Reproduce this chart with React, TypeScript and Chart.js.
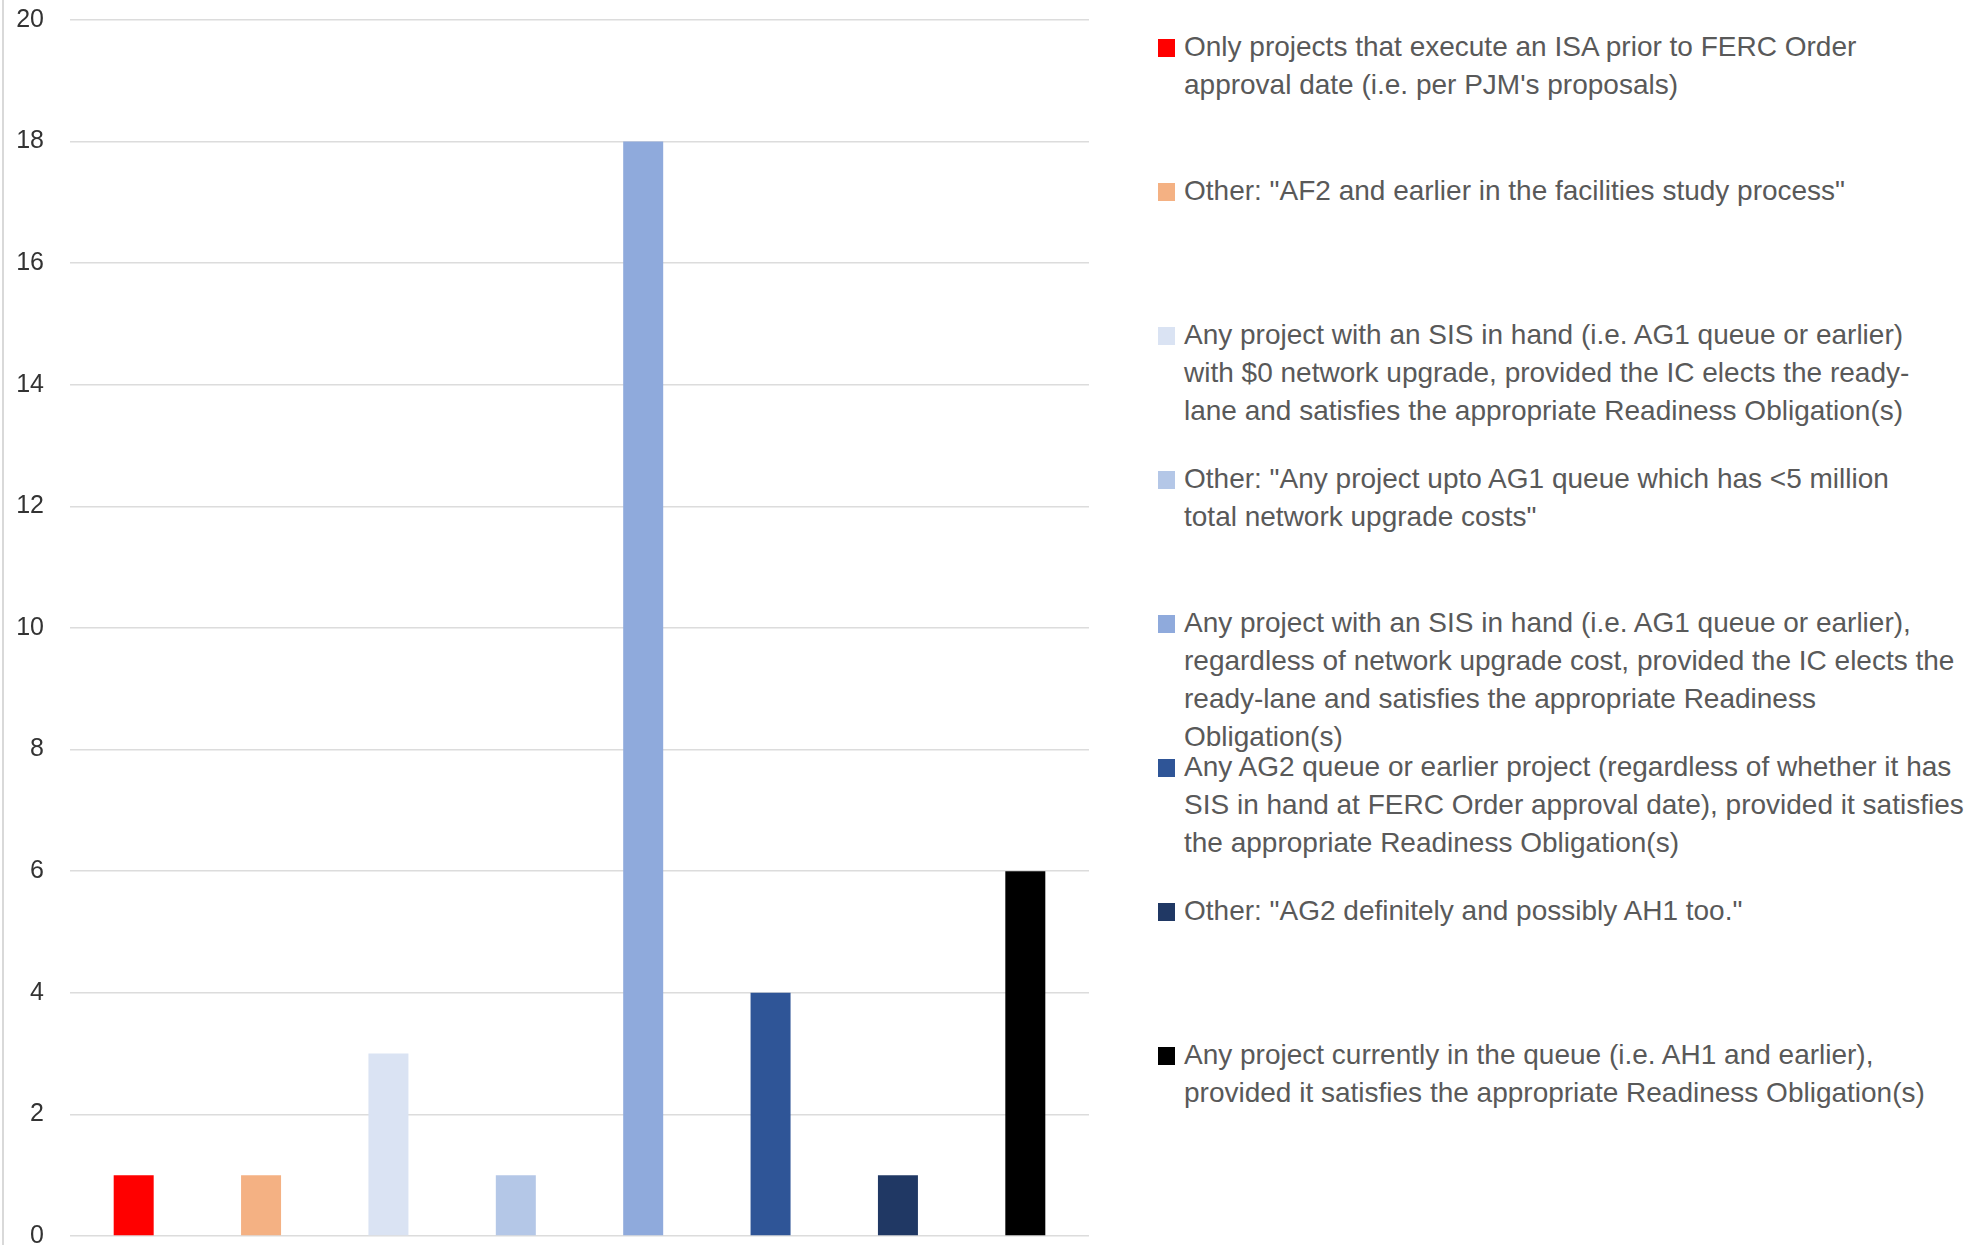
import React, { useEffect, useRef } from "react";
import { Chart, registerables } from "chart.js";

Chart.register(...registerables);

// Categories (legend entries), wrapped as in the reference
const categoryLines: string[][] = [
  ["Only projects that execute an ISA prior to FERC Order", "approval date (i.e. per PJM's proposals)"],
  ['Other: "AF2 and earlier in the facilities study process"'],
  [
    "Any project with an SIS in hand (i.e. AG1 queue or earlier)",
    "with $0 network upgrade, provided the IC elects the ready-",
    "lane and satisfies the appropriate Readiness Obligation(s)",
  ],
  ['Other: "Any project upto AG1 queue which has <5 million', 'total network upgrade costs"'],
  [
    "Any project with an SIS in hand (i.e. AG1 queue or earlier),",
    "regardless of network upgrade cost, provided the IC elects the",
    "ready-lane and satisfies the appropriate Readiness",
    "Obligation(s)",
  ],
  [
    "Any AG2 queue or earlier project (regardless of whether it has",
    "SIS in hand at FERC Order approval date), provided it satisfies",
    "the appropriate Readiness Obligation(s)",
  ],
  ['Other: "AG2 definitely and possibly AH1 too."'],
  [
    "Any project currently in the queue (i.e. AH1 and earlier),",
    "provided it satisfies the appropriate Readiness Obligation(s)",
  ],
];

const categories: string[] = categoryLines.map((l) => l.join(" "));
const values: number[] = [1, 1, 3, 1, 18, 4, 1, 6];
const barColors: string[] = [
  "#FF0000",
  "#F4B183",
  "#DAE3F3",
  "#B4C7E7",
  "#8FAADC",
  "#2F5597",
  "#203864",
  "#000000",
];
const yTicks: number[] = [0, 2, 4, 6, 8, 10, 12, 14, 16, 18, 20];

const FONT = "'Liberation Sans', Arial, sans-serif";

export default function App() {
  const canvasRef = useRef<HTMLCanvasElement | null>(null);

  useEffect(() => {
    const canvas = canvasRef.current;
    if (!canvas) return;
    const chart = new Chart(canvas, {
      type: "bar",
      data: {
        labels: categories,
        datasets: [
          {
            data: values,
            backgroundColor: barColors,
            borderWidth: 0,
            categoryPercentage: 1,
            barPercentage: 0.314,
          },
        ],
      },
      options: {
        animation: false,
        responsive: false,
        devicePixelRatio: 1,
        layout: { padding: { top: 20, right: 11, bottom: 24, left: 0 } },
        plugins: {
          legend: { display: false },
          tooltip: { enabled: false },
        },
        scales: {
          x: {
            display: false,
          },
          y: {
            min: yTicks[0],
            max: yTicks[yTicks.length - 1],
            afterBuildTicks: (scale: any) => {
              scale.ticks = yTicks.map((v) => ({ value: v }));
            },
            afterFit: (scale: any) => {
              scale.width = 70;
              scale.paddingTop = 0;
              scale.paddingBottom = 0;
            },
            ticks: {
              padding: 26,
              color: "#333333",
              font: { family: FONT, size: 25 },
            },
            grid: {
              color: "#dcdcdc",
              lineWidth: 1.5,
              drawTicks: false,
            },
            border: { display: false },
          },
        },
      },
    });
    return () => chart.destroy();
  }, []);

  return (
    <div
      style={{
        position: "absolute",
        left: 0,
        top: 0,
        width: 1988,
        height: 1245,
        overflow: "hidden",
        background: "#ffffff",
        fontFamily: FONT,
      }}
    >
      <div
        style={{
          position: "absolute",
          left: 2,
          top: 0,
          width: 2,
          height: 1245,
          background: "#d9d9d9",
        }}
      />
      <canvas
        ref={canvasRef}
        width={1100}
        height={1260}
        style={{ position: "absolute", left: 0, top: 0, width: 1100, height: 1260, display: "block" }}
      />
      {categoryLines.map((lines, i) => (
        <React.Fragment key={i}>
          <div
            style={{
              position: "absolute",
              left: 1158,
              top: 39 + 144 * i,
              width: 17,
              height: 18,
              background: barColors[i],
            }}
          />
          <div
            style={{
              position: "absolute",
              left: 1184,
              top: 28 + 144 * i,
              fontSize: 28,
              lineHeight: "38px",
              color: "#595959",
              whiteSpace: "nowrap",
            }}
          >
            {lines.map((t, j) => (
              <div key={j}>{t}</div>
            ))}
          </div>
        </React.Fragment>
      ))}
    </div>
  );
}
